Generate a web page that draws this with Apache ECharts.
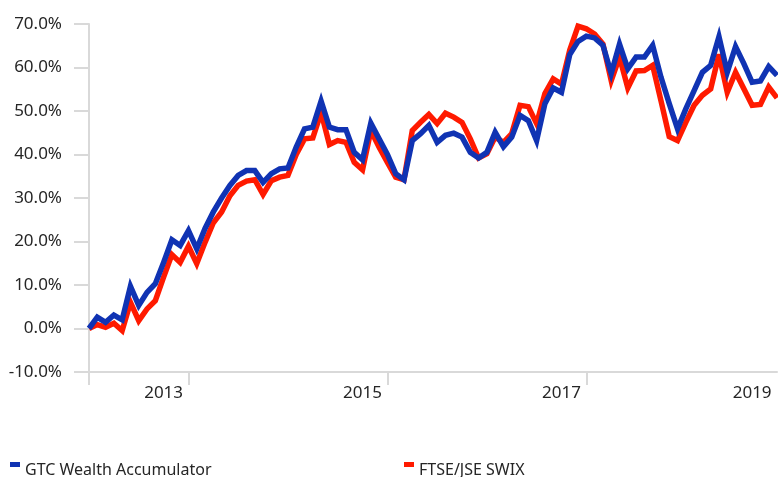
<!DOCTYPE html>
<html>
<head>
<meta charset="utf-8">
<script src="https://cdn.jsdelivr.net/npm/echarts@6/dist/echarts.min.js"></script>
<style>
html,body{margin:0;padding:0;background:#fff;}
#chart{width:778px;height:477px;}
</style>
</head>
<body>
<div id="chart"></div>
<script>
// Monthly observations, Jan 2012 .. Dec 2018 (cumulative return, %)
var categories = [];
for (var y = 2012; y <= 2018; y++) {
  for (var m = 1; m <= 12; m++) {
    categories.push(y + '-' + (m < 10 ? '0' + m : m));
  }
}

var gtcValues = [
  0.0, 2.6, 1.4, 3.1, 2.0, 9.7, 5.3, 8.3, 10.3, 15.2, 20.4, 19.1,
  22.5, 18.3, 23.0, 26.8, 30.0, 32.9, 35.2, 36.3, 36.3, 33.6, 35.6, 36.7,
  36.9, 41.7, 45.9, 46.3, 52.3, 46.3, 45.7, 45.7, 40.5, 38.8, 47.2, 43.6,
  40.0, 35.6, 34.2, 43.2, 44.8, 46.7, 42.8, 44.4, 44.9, 44.0, 40.5, 39.2,
  40.5, 45.1, 41.8, 44.0, 49.0, 47.8, 43.2, 51.7, 55.3, 54.3, 63.0, 66.0,
  67.2, 66.8, 65.1, 58.6, 65.4, 59.7, 62.4, 62.4, 65.1, 57.8, 51.7, 45.9,
  50.5, 54.7, 58.9, 60.5, 67.1, 58.9, 64.8, 60.9, 56.6, 56.9, 60.2, 58.2
];

var swixValues = [
  0.0, 0.9, 0.3, 1.2, -0.5, 6.0, 1.8, 4.5, 6.4, 11.8, 17.0, 15.2,
  18.9, 14.9, 19.8, 24.3, 26.8, 30.5, 32.9, 33.9, 34.2, 30.8, 34.0, 34.8,
  35.2, 40.0, 43.6, 43.8, 49.7, 42.3, 43.2, 42.8, 38.2, 36.5, 45.5, 41.7,
  38.2, 34.8, 34.2, 45.5, 47.4, 49.2, 47.1, 49.5, 48.6, 47.4, 43.6, 39.2,
  40.2, 44.0, 42.8, 44.8, 51.3, 51.0, 47.1, 54.0, 57.4, 56.2, 64.0, 69.5,
  68.9, 67.7, 65.4, 57.0, 62.4, 55.3, 59.2, 59.3, 60.5, 52.4, 44.1, 43.2,
  47.4, 51.3, 53.6, 55.1, 63.0, 54.3, 58.9, 55.1, 51.3, 51.5, 55.5, 53.0
];

var seriesNames = ['GTC Wealth Accumulator', 'FTSE/JSE SWIX'];
var tickLabels = ['2013', '2015', '2017', '2019'];
var tickLabelIndex = [9, 33, 57, 80];
var axisTickIndex = [0, 12, 36, 60];

var BLUE = '#1033b3';
var RED = '#ff1a00';
var TXT = '#262626';
var AXIS = '#d9d9d9';
var FONT = '"Noto Sans", "Liberation Sans", sans-serif';
var legendIcon = 'path://M0,0H10V5H0Z M0,17H0.01V17.01H0Z';

var chart = echarts.init(document.getElementById('chart'), null, {renderer: 'canvas'});
chart.setOption({
  animation: false,
  backgroundColor: '#fff',
  textStyle: {fontFamily: FONT},
  grid: {left: 89, right: 1, top: 24, bottom: 105, containLabel: false, outerBoundsMode: 'none'},
  legend: [
    {
      data: [seriesNames[0]], left: 10, top: 462, padding: 0,
      icon: legendIcon, itemWidth: 10, itemHeight: 17,
      textStyle: {color: TXT, fontSize: 16, fontFamily: FONT}
    },
    {
      data: [seriesNames[1]], left: 404, top: 462, padding: 0,
      icon: legendIcon, itemWidth: 10, itemHeight: 17,
      textStyle: {color: TXT, fontSize: 16, fontFamily: FONT}
    }
  ],
  xAxis: {
    type: 'category',
    data: categories,
    boundaryGap: false,
    axisLine: {show: true, onZero: false, lineStyle: {color: AXIS, width: 2}},
    axisTick: {
      show: true, length: 13,
      interval: function (idx) { return axisTickIndex.indexOf(idx) >= 0; },
      lineStyle: {color: AXIS, width: 2}
    },
    axisLabel: {
      show: true, margin: 13, color: TXT, fontSize: 17, fontFamily: FONT,
      interval: function (idx) { return tickLabelIndex.indexOf(idx) >= 0; },
      formatter: function (v, idx) {
        var k = tickLabelIndex.indexOf(idx);
        return k >= 0 ? tickLabels[k] : '';
      }
    },
    splitLine: {show: false}
  },
  yAxis: {
    type: 'value',
    min: -10, max: 70, interval: 10,
    axisLine: {show: true, lineStyle: {color: AXIS, width: 2}},
    axisTick: {show: true, length: 15, lineStyle: {color: AXIS, width: 2}},
    axisLabel: {
      margin: 27, color: TXT, fontSize: 17, fontFamily: FONT,
      formatter: function (v) { return v.toFixed(1) + '%'; }
    },
    splitLine: {show: false}
  },
  series: [
    {
      name: seriesNames[1], type: 'line', data: swixValues,
      symbol: 'none', smooth: false, color: RED,
      itemStyle: {color: RED},
      lineStyle: {color: RED, width: 5.5, join: 'miter', miterLimit: 4},
      z: 2
    },
    {
      name: seriesNames[0], type: 'line', data: gtcValues,
      symbol: 'none', smooth: false, color: BLUE,
      itemStyle: {color: BLUE},
      lineStyle: {color: BLUE, width: 5.5, join: 'miter', miterLimit: 4},
      z: 3
    }
  ]
});
</script>
</body>
</html>
